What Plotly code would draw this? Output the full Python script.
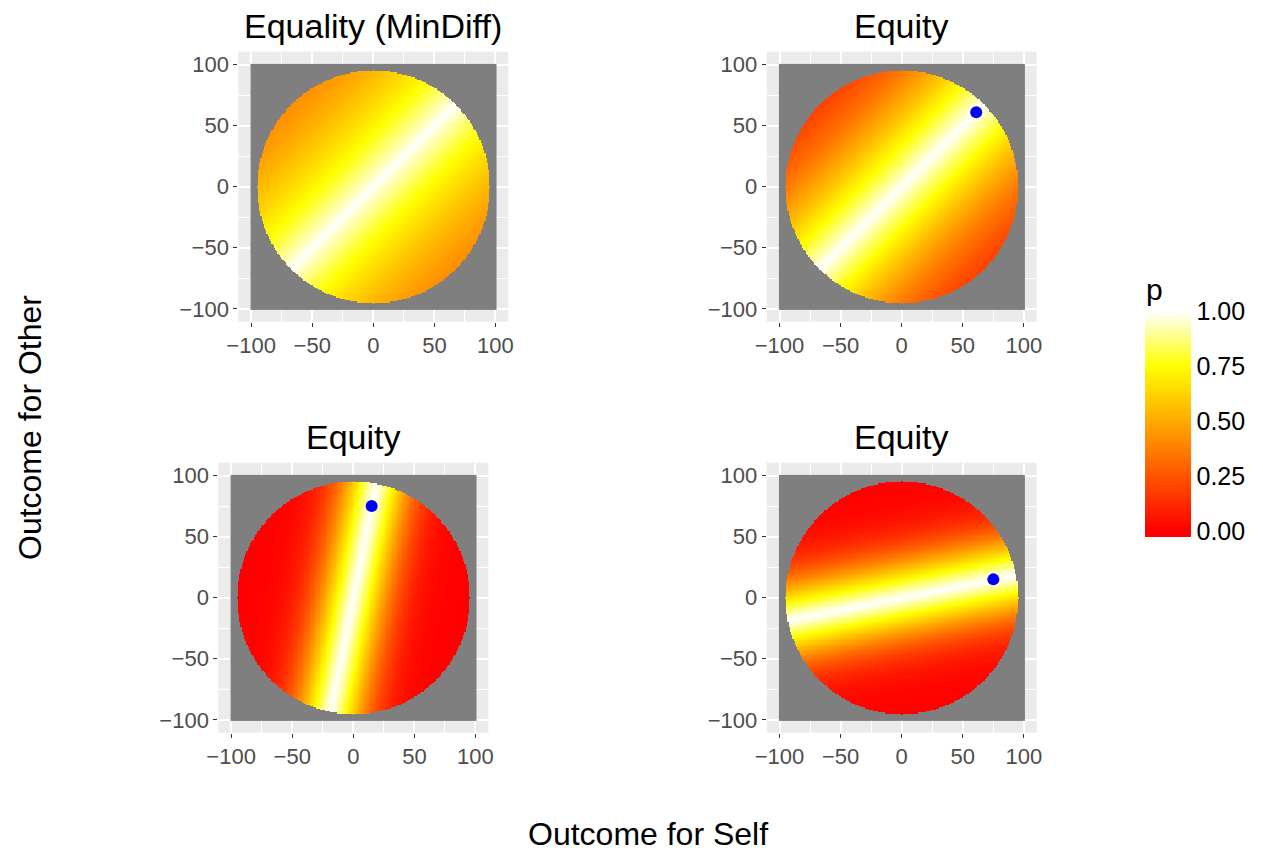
import numpy as np
import plotly.graph_objects as go

# ---- data ----
panel_titles = ["Equality (MinDiff)", "Equity", "Equity", "Equity"]
# direction of the preferred line through the origin (self, other)
line_dir_self = [1, 61, 15, 75]
line_dir_other = [1, 61, 75, 15]
# fall-off of p with distance d from that line: p = exp(-(lin*d + quad*d^2))
decay_lin = [0.00926, 0.0101, 0.0138, 0.0133]
decay_quad = [0.0, 0.0000782, 0.00074, 0.000518]
# blue reference points (None for the first panel)
point_self = [None, 61, 15, 75]
point_other = [None, 61, 75, 15]
grid_values = list(range(-100, 101))
disk_radius = 95
tick_vals = [-100, -50, 0, 50, 100]
legend_ticks = [0.0, 0.25, 0.5, 0.75, 1.0]

# page body has an 8px margin: figure is placed at (8, 8)
OFF = 8
W, H = 1263 - OFF, 855 - OFF
# panel plot areas in screenshot pixels (left, right, top, bottom)
panel_px = [(238.3, 508.3, 51.7, 321.7),
            (766.7, 1036.7, 51.7, 321.7),
            (218.3, 488.3, 462.7, 732.7),
            (766.7, 1036.7, 462.7, 732.7)]

def px_x(x):
    return (x - OFF) / W

def px_y(y):
    return 1 - (y - OFF) / H

FONT = "Liberation Sans"
cmin, cmax = -0.028, 1.028
def norm(v):
    return (v - cmin) / (cmax - cmin)
colorscale = [[0, "#FF0000"], [norm(0), "#FF0000"], [norm(0.75), "#FFFF00"],
              [norm(1.0), "#FFFFFF"], [1, "#FFFFFF"]]

fig = go.Figure()
gx = np.array(grid_values, dtype=float)
X, Y = np.meshgrid(gx, gx)
inside = np.hypot(X, Y) <= disk_radius
for i in range(4):
    ax = "" if i == 0 else str(i + 1)
    xa, ya = "x" + ax, "y" + ax
    # grey NA cells outside the disk (ggplot na.value = grey50)
    G = np.where(inside, np.nan, 1.0)
    fig.add_trace(go.Heatmap(x=grid_values, y=grid_values, z=G, zsmooth=False,
                             colorscale=[[0, "#7F7F7F"], [1, "#7F7F7F"]], showscale=False,
                             hoverinfo="skip", xaxis=xa, yaxis=ya))
    ux, uy = line_dir_self[i], line_dir_other[i]
    n = np.hypot(ux, uy)
    d = np.abs(X * uy / n - Y * ux / n)
    P = np.exp(-(decay_lin[i] * d + decay_quad[i] * d ** 2))
    P[~inside] = np.nan
    fig.add_trace(go.Heatmap(x=grid_values, y=grid_values, z=P, coloraxis="coloraxis",
                             zsmooth=False, hoverinfo="skip", xaxis=xa, yaxis=ya))
    if point_self[i] is not None:
        fig.add_trace(go.Scatter(x=[point_self[i]], y=[point_other[i]], mode="markers",
                                 marker=dict(color="#0000FF", size=12), showlegend=False,
                                 xaxis=xa, yaxis=ya))
    l, r, t, b = panel_px[i]
    axis_common = dict(range=[-110.5, 110.5], tickvals=tick_vals, showgrid=True,
                       gridcolor="white", gridwidth=2, zeroline=False, showline=False,
                       ticks="outside", ticklen=4, tickwidth=1.3, tickcolor="#333333",
                       tickfont=dict(family=FONT, size=22, color="#4D4D4D"),
                       minor=dict(tickvals=[-75, -25, 25, 75], showgrid=True,
                                  gridcolor="white", gridwidth=1, ticks=""),
                       fixedrange=True)
    fig.update_layout(**{
        "xaxis" + ax: dict(domain=[px_x(l), px_x(r)], anchor=ya, **axis_common),
        "yaxis" + ax: dict(domain=[px_y(b), px_y(t)], anchor=xa, **axis_common),
    })
    fig.add_annotation(text=panel_titles[i], x=px_x((l + r) / 2), y=px_y(t - 26),
                       xref="paper", yref="paper", showarrow=False,
                       font=dict(family=FONT, size=34, color="black"),
                       xanchor="center", yanchor="middle")

fig.add_annotation(text="Outcome for Self", x=px_x(648), y=px_y(834), xref="paper",
                   yref="paper", showarrow=False, xanchor="center", yanchor="middle",
                   font=dict(family=FONT, size=32, color="black"))
fig.add_annotation(text="Outcome for Other", x=px_x(30), y=px_y(428), xref="paper",
                   yref="paper", showarrow=False, xanchor="center", yanchor="middle",
                   textangle=-90, font=dict(family=FONT, size=32, color="black"))

# colorbar
cb_left, cb_w, cb_top, cb_bot = 1145, 46, 305, 537
fig.update_layout(coloraxis=dict(
    colorscale=colorscale, cmin=cmin, cmax=cmax,
    colorbar=dict(x=px_x(cb_left), xanchor="left", xpad=0, ypad=0,
                  y=px_y((cb_top + cb_bot) / 2), yanchor="middle",
                  len=cb_bot - cb_top, lenmode="pixels", thickness=cb_w,
                  thicknessmode="pixels", outlinewidth=0,
                  tickvals=legend_ticks, ticktext=["%.2f" % v for v in legend_ticks],
                  ticks="", tickfont=dict(family=FONT, size=25, color="black"))))
fig.add_annotation(text="p", x=px_x(cb_left - 1), y=px_y(289), xref="paper", yref="paper",
                   showarrow=False, xanchor="left", yanchor="middle",
                   font=dict(family=FONT, size=30, color="black"))
# white tick marks inside the colorbar, like ggplot
for v in legend_ticks:
    ypx = cb_bot - (v - cmin) / (cmax - cmin) * (cb_bot - cb_top)
    for x0, x1 in [(cb_left, cb_left + 9), (cb_left + cb_w - 9, cb_left + cb_w)]:
        fig.add_shape(type="line", xref="paper", yref="paper", x0=px_x(x0), x1=px_x(x1),
                      y0=px_y(ypx), y1=px_y(ypx), line=dict(color="white", width=1.2),
                      layer="above")

fig.update_layout(width=W, height=H,
                  margin=dict(l=0, r=0, t=0, b=0, autoexpand=False),
                  paper_bgcolor="white", plot_bgcolor="#EBEBEB", showlegend=False,
                  font=dict(family=FONT))
fig.write_html("out.html")
